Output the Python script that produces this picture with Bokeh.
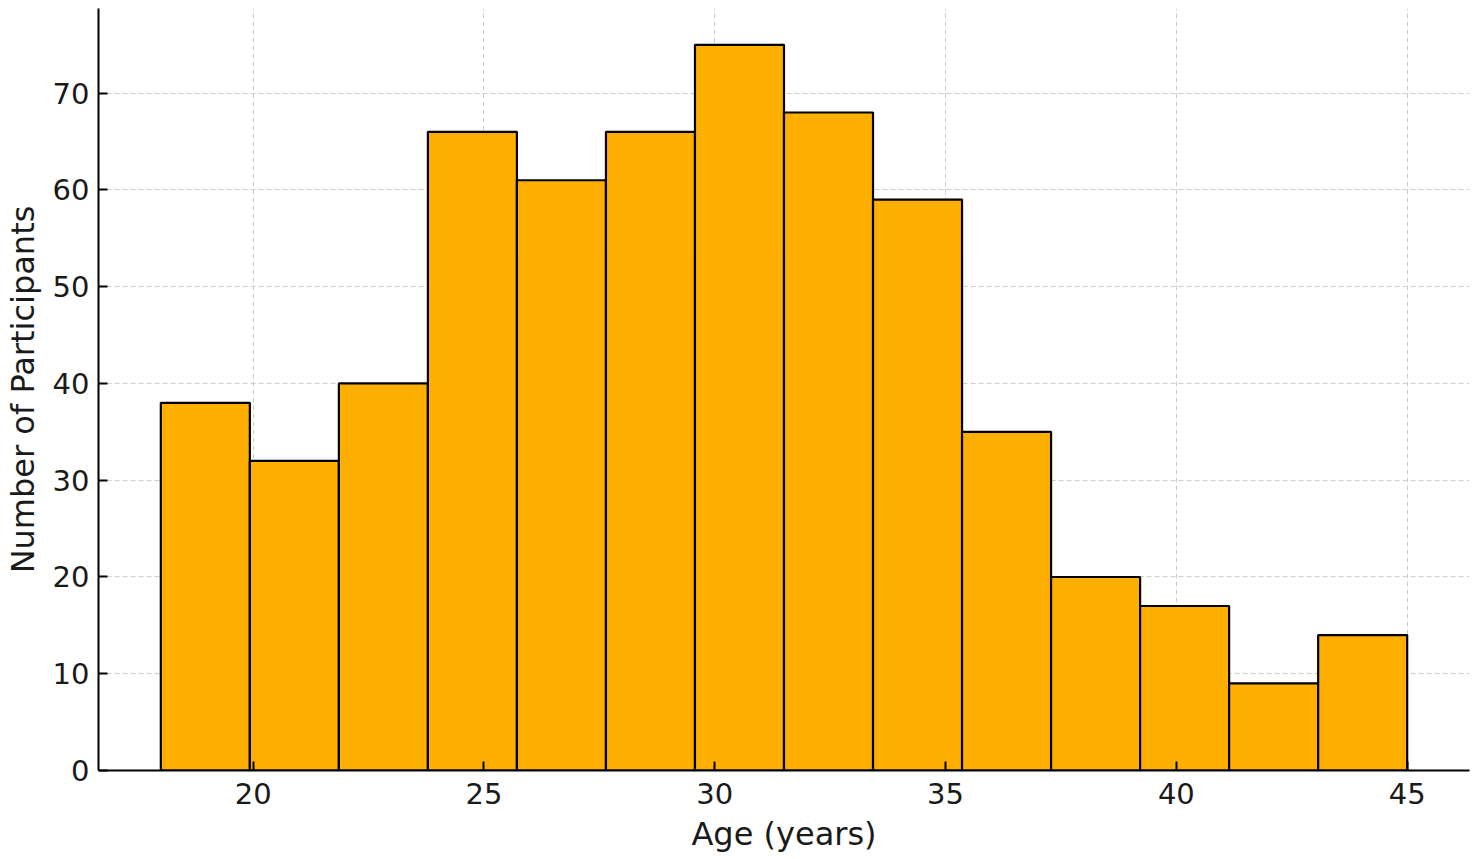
import numpy as np
from bokeh.plotting import figure
from bokeh.models import Range1d, FixedTicker
from bokeh.embed import file_html
from bokeh.resources import INLINE

# Data
age_min = 18
age_max = 45
counts = [38, 32, 40, 66, 61, 66, 75, 68, 59, 35, 20, 17, 9, 14]
x_ticks = [20, 25, 30, 35, 40, 45]
y_ticks = [0, 10, 20, 30, 40, 50, 60, 70]

edges = np.linspace(age_min, age_max, len(counts) + 1)
span = age_max - age_min

p = figure(width=1477, height=859, output_backend="svg", toolbar_location=None,
           x_range=Range1d(age_min - 0.05 * span, age_max + 0.05 * span),
           y_range=Range1d(0, max(counts) * 1.05),
           min_border_left=98, min_border_bottom=89, min_border_top=8, min_border_right=8)

p.quad(left=edges[:-1], right=edges[1:], bottom=0, top=counts,
       fill_color="#FFAF00", line_color="black", line_width=2.2)

p.outline_line_color = None
p.background_fill_color = "white"
p.border_fill_color = "white"

for ax in (p.xaxis[0], p.yaxis[0]):
    ax.axis_line_width = 2
    ax.axis_line_color = "black"
    ax.major_tick_in = 9
    ax.major_tick_out = 0
    ax.major_tick_line_width = 2
    ax.major_tick_line_color = "black"
    ax.minor_tick_line_color = None
    ax.major_label_text_font = "DejaVu Sans"
    ax.major_label_text_font_size = "29px"
    ax.major_label_text_color = "#1a1a1a"
    ax.axis_label_text_font = "DejaVu Sans"
    ax.axis_label_text_font_size = "32px"
    ax.axis_label_text_font_style = "normal"
    ax.axis_label_text_color = "#1a1a1a"

p.xaxis.ticker = FixedTicker(ticks=x_ticks)
p.yaxis.ticker = FixedTicker(ticks=y_ticks)
p.xaxis.axis_label = "Age (years)"
p.yaxis.axis_label = "Number of Participants"
p.xaxis.major_label_standoff = 12
p.yaxis.major_label_standoff = 9
p.xaxis.axis_label_standoff = 8
p.yaxis.axis_label_standoff = 8

for g in (p.xgrid[0], p.ygrid[0]):
    g.grid_line_color = "#cccccc"
    g.grid_line_dash = "5 3"
    g.grid_line_width = 1

open("out.html", "w").write(file_html(p, INLINE))
